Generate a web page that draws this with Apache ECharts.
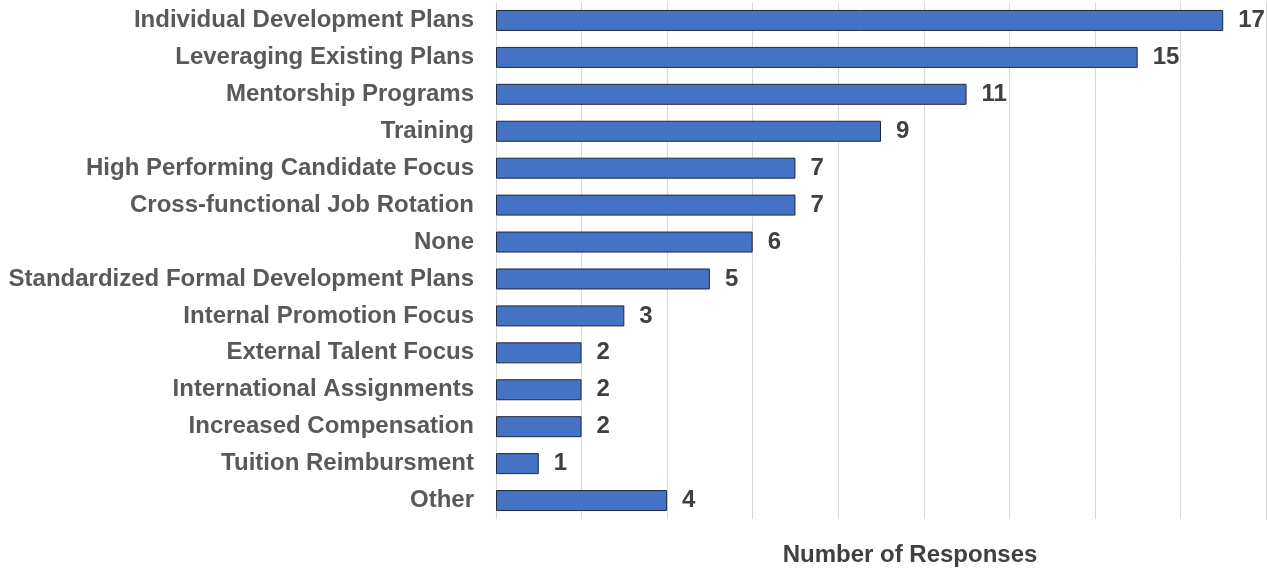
<!DOCTYPE html>
<html>
<head>
<meta charset="utf-8">
<script src="https://cdn.jsdelivr.net/npm/echarts@6/dist/echarts.min.js"></script>
<style>html,body{margin:0;padding:0;background:#fff}#c{width:1268px;height:568px}</style>
</head>
<body>
<div id="c"></div>
<script>
const categories = ["Individual Development Plans","Leveraging Existing Plans","Mentorship Programs","Training","High Performing Candidate Focus","Cross-functional Job Rotation","None","Standardized Formal Development Plans","Internal Promotion Focus","External Talent Focus","International Assignments","Increased Compensation","Tuition Reimbursment","Other"];
const values = [17,15,11,9,7,7,6,5,3,2,2,2,1,4];
const axisTitle = "Number of Responses";

const FONT = '"Liberation Sans", Arial, sans-serif';
const chart = echarts.init(document.getElementById('c'));
chart.setOption({
  animation: false,
  grid: {left: 496, right: 2, top: 2, bottom: 49, containLabel: false, outerBoundsMode: 'none'},
  xAxis: {
    type: 'value', min: 0, max: 18, interval: 2,
    axisLabel: {show: false}, axisLine: {show: false}, axisTick: {show: false},
    splitLine: {show: true, lineStyle: {color: '#d9d9d9', width: 1}},
    name: axisTitle, nameLocation: 'middle', nameGap: 24,
    nameTextStyle: {fontFamily: FONT, fontWeight: 'bold', fontSize: 24, color: '#404040', padding: [0,0,0,58]}
  },
  yAxis: {
    type: 'category', data: categories, inverse: true,
    axisLine: {show: false}, axisTick: {show: false},
    axisLabel: {fontFamily: FONT, fontWeight: 'bold', fontSize: 24, color: '#595959', margin: 22}
  },
  series: [{
    type: 'bar', data: values, barWidth: 21,
    itemStyle: {color: '#4472C4', borderColor: '#1f2a3c', borderWidth: 1},
    label: {show: true, position: 'right', distance: 15, fontFamily: FONT, fontWeight: 'bold', fontSize: 24, color: '#404040'}
  }]
});
</script>
</body>
</html>
